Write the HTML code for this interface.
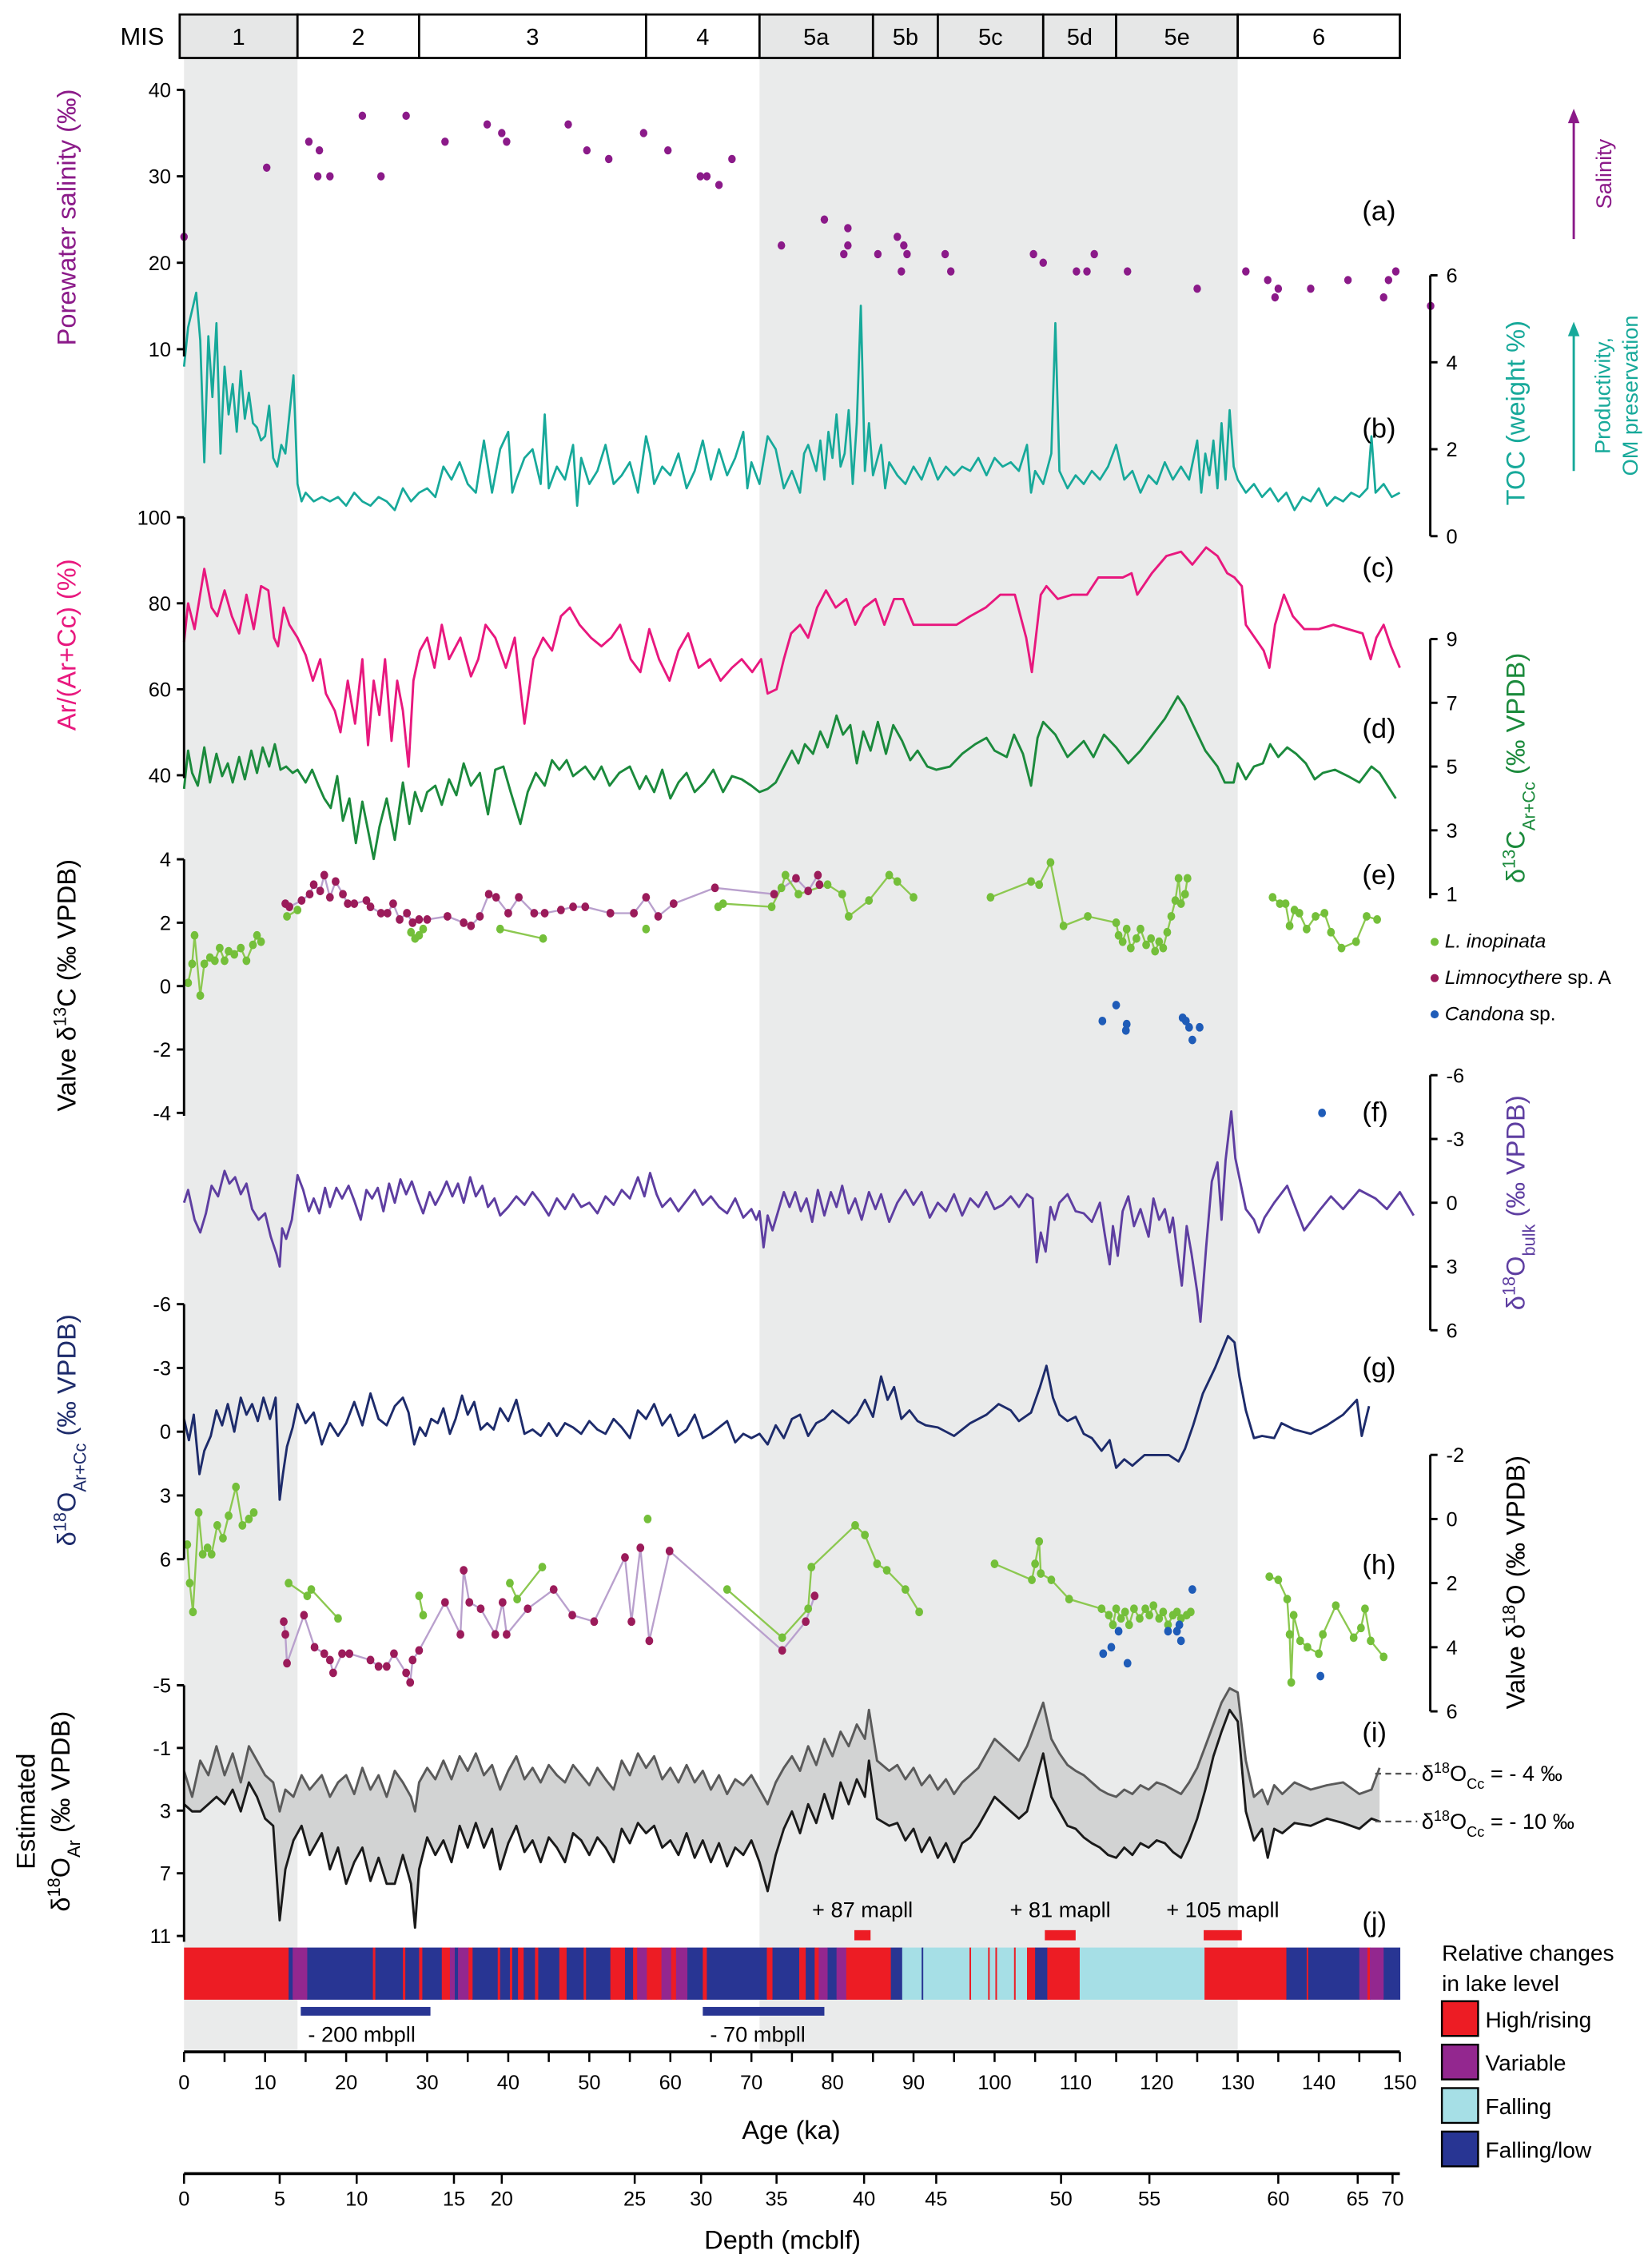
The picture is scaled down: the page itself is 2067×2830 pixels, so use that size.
<!DOCTYPE html>
<html><head><meta charset="utf-8">
<style>
html,body{margin:0;padding:0;background:#fff;}
svg{display:block;font-family:"Liberation Sans",Arial,sans-serif;}
</style></head>
<body>
<svg id="chart" xmlns="http://www.w3.org/2000/svg" width="2067" height="2830" viewBox="0 0 1140 1561" preserveAspectRatio="none">
<g id="bg"></g>
<g id="plot"></g>
<g id="ann"></g>
</svg>
<script>
// ---------- DATA ----------
const misBounds = [0,14,29,57,71,85,93,106,115,130,150];
const misLabels = ["1","2","3","4","5a","5b","5c","5d","5e","6"];
const shadeRanges = [[0,14],[71,130]];
const ageTicks = [0,10,20,30,40,50,60,70,80,90,100,110,120,130,140,150];
const depthLabels = [0,5,10,15,20,25,30,35,40,45,50,55,60,65,70];
const depthAges = [0,11.8,21.3,33.3,39.2,55.6,63.8,73.1,83.9,92.8,108.2,119.1,135,144.8,149.1];

const salinity = [[0,23],[10.2,31],[15.4,34],[16.7,33],[16.5,30],[18,30],[22,37],[24.3,30],[27.4,37],[32.2,34],[37.4,36],[39.2,35],[39.8,34],[47.4,36],[49.7,33],[52.4,32],[56.7,35],[59.7,33],[63.7,30],[64.5,30],[66,29],[67.6,32],[73.7,22],[79,25],[81.9,24],[81.9,22],[81.4,21],[85.6,21],[88,23],[88.8,22],[89.2,21],[88.5,19],[93.9,21],[94.6,19],[104.8,21],[106,20],[110.1,19],[111.4,19],[112.3,21],[116.4,19],[125,17],[131,19],[133.7,18],[135,17],[134.6,16],[139,17],[143.6,18],[148,16],[148.6,18],[149.5,19],[153.8,15]];

const toc = [[0,3.9],[0.5,4.8],[1,5.2],[1.5,5.6],[2,4.5],[2.5,1.7],[3,4.6],[3.5,3.2],[4,4.9],[4.5,1.9],[5,3.9],[5.5,2.8],[6,3.5],[6.5,2.4],[7,3.8],[7.5,2.7],[8,3.3],[8.5,2.6],[9,2.5],[9.5,2.2],[10,2.3],[10.5,3.0],[11,1.8],[11.5,1.6],[12,2.1],[12.5,1.9],[13,2.8],[13.5,3.7],[14,1.2],[14.5,0.8],[15,1.0],[16,0.8],[17,0.9],[18,0.8],[19,0.9],[20,0.7],[21,1.0],[22,0.8],[23,0.7],[24,0.9],[25,0.8],[26,0.6],[27,1.1],[28,0.8],[29,1.0],[30,1.1],[31,0.9],[32,1.6],[33,1.3],[34,1.7],[35,1.2],[36,1.0],[37,2.2],[38,1.0],[39,2.0],[40,2.4],[40.5,1.0],[41,1.3],[42,1.8],[43,2.0],[44,1.2],[44.5,2.8],[45,1.1],[46,1.6],[47,1.3],[48,2.1],[48.5,0.7],[49,1.8],[50,1.2],[51,1.5],[52,2.1],[53,1.2],[54,1.4],[55,1.7],[56,1.0],[57,2.3],[57.5,1.9],[58,1.2],[59,1.6],[60,1.4],[61,1.9],[62,1.1],[63,1.5],[64,2.2],[65,1.3],[66,2.0],[67,1.4],[68,1.8],[69,2.4],[69.5,1.1],[70,1.7],[71,1.2],[72,2.3],[73,2.0],[74,1.1],[75,1.5],[76,1.0],[76.5,1.9],[77,2.1],[78,1.5],[78.5,2.2],[79,1.3],[79.5,2.4],[80,1.8],[80.5,2.8],[81,1.6],[81.5,1.9],[82,2.9],[82.5,1.2],[83,2.6],[83.5,5.3],[84,1.5],[84.5,2.6],[85,1.4],[86,2.1],[86.5,1.1],[87,1.7],[88,1.4],[89,1.2],[90,1.6],[91,1.3],[92,1.8],[93,1.3],[94,1.6],[95,1.4],[96,1.6],[97,1.5],[98,1.8],[99,1.4],[100,1.8],[101,1.6],[102,1.7],[103,1.5],[104,2.1],[104.5,1.0],[105,1.5],[106,1.2],[107,1.9],[107.5,4.9],[108,1.5],[109,1.1],[110,1.4],[111,1.2],[112,1.5],[113,1.3],[114,1.6],[115,2.1],[116,1.3],[117,1.5],[118,1.0],[119,1.4],[120,1.2],[121,1.7],[122,1.3],[123,1.6],[124,1.3],[125,2.2],[125.5,1.0],[126,1.9],[126.5,1.4],[127,2.2],[127.5,1.1],[128,2.6],[128.5,1.3],[129,2.9],[129.5,1.6],[130,1.3],[131,1.0],[132,1.2],[133,0.9],[134,1.1],[135,0.8],[136,1.0],[137,0.6],[138,0.9],[139,0.8],[140,1.1],[141,0.7],[142,0.9],[143,0.8],[144,1.0],[145,0.9],[146,1.1],[146.5,2.3],[147,1.0],[148,1.2],[149,0.9],[150,1.0]];

const arRatio = [[0,71],[0.5,80],[1.3,74],[2.5,88],[3.4,79],[4.1,77],[5,83],[5.9,77],[6.8,73],[7.7,82],[8.6,74],[9.5,84],[10.4,83],[11.1,72],[11.6,70],[12.3,79],[13,75],[14,72],[15,68],[15.9,62],[16.8,67],[17.5,59],[18.6,55],[19.3,50],[20.2,62],[21.1,52],[22,67],[22.7,47],[23.4,62],[24.1,54],[24.8,67],[25.6,48],[26.3,62],[27,55],[27.7,42],[28.3,62],[29.1,69],[30,72],[30.9,65],[31.8,75],[32.7,67],[34.1,72],[35.4,63],[36.3,67],[37.2,75],[38.4,72],[39.7,65],[40.8,72],[42,52],[43.1,67],[44.3,72],[45.4,69],[46.5,77],[47.6,79],[48.8,75],[50.2,72],[51.5,70],[52.7,72],[53.8,75],[55.1,67],[56.3,64],[57.4,74],[58.6,67],[59.9,62],[61,69],[62.2,73],[63.5,65],[64.9,67],[66.2,62],[67.6,65],[68.8,67],[70.1,64],[71.2,67],[72,59],[73.1,60],[74,67],[74.9,73],[76,75],[77,72],[78.1,79],[79.2,83],[80.4,79],[81.7,81],[82.8,75],[83.9,79],[85.3,81],[86.4,75],[87.6,81],[88.7,81],[90,75],[92,75],[94,75],[95.3,75],[97,77],[98.9,79],[100.7,82],[102.5,82],[103.9,72],[104.6,64],[105.7,82],[106.4,84],[107.8,81],[109.6,82],[111.4,82],[112.8,86],[114,86],[115,86],[115.8,86],[116.9,87],[117.6,82],[119.4,87],[121.2,91],[123,92],[124.4,89],[126.1,93],[127.5,91],[128.7,87],[129.6,86],[130.5,84],[131,75],[132.1,72],[133.2,69],[133.9,65],[134.6,75],[135.7,82],[136.8,77],[138.2,74],[140,74],[141.8,75],[143.6,74],[145.4,73],[146.4,67],[147.1,72],[148,75],[148.9,70],[150,65]];

const d13cArCc = [[0,4.3],[0.5,5.5],[1,4.8],[1.7,4.4],[2.5,5.6],[3.2,4.5],[4,5.4],[4.7,4.7],[5.4,5.1],[6,4.5],[6.8,5.3],[7.5,4.6],[8.3,5.5],[9,4.8],[9.7,5.6],[10.5,5.0],[11.2,5.7],[11.9,4.9],[12.6,5.0],[13.4,4.8],[14,4.9],[15,4.5],[15.8,4.9],[16.6,4.4],[17.3,4.0],[18.1,3.7],[18.9,4.7],[19.6,3.3],[20.4,4.0],[21.2,2.6],[22,3.9],[22.7,3.0],[23.4,2.1],[24.1,3.1],[25,4.0],[26,2.7],[27,4.5],[27.8,3.2],[28.5,4.2],[29.3,3.6],[30,4.2],[31,4.4],[31.8,3.8],[32.7,4.6],[33.6,4.1],[34.5,5.1],[35.4,4.4],[36.5,4.8],[37.5,3.5],[38.4,4.9],[39.4,5.0],[40.3,4.2],[41.5,3.2],[42.4,4.2],[43.4,4.8],[44.5,4.4],[45.4,5.2],[46.3,4.9],[47.2,5.2],[48,4.7],[49.5,5.0],[50.6,4.6],[51.5,5.0],[52.5,4.4],[53.7,4.8],[55,5.0],[56.2,4.3],[57,4.7],[58,4.2],[59,4.9],[60,4.0],[61,4.5],[62,4.8],[63,4.2],[64.2,4.5],[65.3,4.9],[66.5,4.2],[67.6,4.7],[68.8,4.6],[70,4.4],[71,4.2],[72,4.3],[73,4.5],[74,5.0],[75,5.5],[75.8,5.1],[76.6,5.7],[77.6,5.4],[78.5,6.1],[79.4,5.6],[80.5,6.6],[81.3,6.0],[82.2,6.3],[83,5.1],[83.8,6.1],[84.7,5.5],[85.6,6.4],[86.6,5.4],[87.5,6.3],[88.6,5.8],[89.6,5.2],[90.5,5.5],[91.7,5.0],[92.8,4.9],[94.5,5.0],[96,5.4],[97.6,5.7],[99,5.9],[100,5.5],[101.5,5.3],[102.4,6.0],[103.5,5.4],[104.5,4.4],[105.3,5.9],[106,6.4],[107.5,6.0],[109,5.3],[110.2,5.6],[111,5.8],[112.2,5.3],[113.5,6.0],[115,5.6],[116.5,5.1],[118,5.5],[119.5,6.0],[121,6.5],[122.6,7.2],[123.4,6.9],[124.5,6.3],[126,5.5],[127.5,5.0],[128.4,4.5],[129.5,4.5],[130,5.1],[131,4.6],[132,5.0],[133.1,5.1],[134,5.7],[135,5.3],[136.1,5.6],[137.2,5.4],[138.4,5.1],[139.5,4.6],[140.5,4.8],[142,4.9],[143.6,4.7],[145,4.5],[146.5,5.0],[147.5,4.8],[148.5,4.4],[149.5,4.0]];

const c13Inopinata = [[[0.5,0.1],[1,0.7],[1.3,1.6],[2,-0.3],[2.5,0.7],[3.2,0.9],[3.8,0.8],[4.4,1.2],[5,0.8],[5.5,1.1],[6.2,1.0],[7,1.2],[7.7,0.8],[8.5,1.3],[9,1.6],[9.5,1.4]],[[12.7,2.2],[14,2.4]],[[28,1.7],[28.5,1.5],[29,1.6],[29.5,1.8]],[[39,1.8],[44.3,1.5]],[[57,1.8]],[[65.9,2.5],[66.5,2.6],[72.5,2.5],[73.7,3.1],[74.2,3.5],[75.8,2.9],[79.4,3.2],[81.2,2.9],[82,2.2],[84.5,2.7],[87,3.5],[88,3.3],[90,2.8]],[[99.5,2.8],[104.5,3.3],[105.5,3.2],[106.9,3.9],[108.5,1.9],[111.5,2.2],[115,2.0],[115.3,1.6],[115.8,1.4],[116.3,1.8],[116.8,1.2],[117.5,1.5],[118,1.8],[118.7,1.3],[119.3,1.5],[119.8,1.1],[120.3,1.4],[120.8,1.2],[121.3,1.7],[121.8,2.2],[122.3,2.7],[122.7,3.4],[123,2.6],[123.5,2.9],[123.8,3.4]],[[134.3,2.8],[135.2,2.6],[135.9,2.6],[136.4,1.9],[137,2.4],[137.6,2.3],[138.5,1.8],[139.6,2.2],[140.7,2.3],[141.5,1.7],[142.8,1.2],[144.6,1.4],[145.9,2.2],[147.2,2.1]]];
const c13Limno = [[12.5,2.6],[13,2.5],[14.5,2.7],[15.5,2.9],[16,3.2],[16.8,3.0],[17.3,3.5],[18,2.8],[18.7,3.3],[19.6,2.9],[20.2,2.6],[21,2.6],[22.5,2.7],[23,2.5],[24.3,2.3],[25.1,2.3],[25.8,2.6],[26.6,2.1],[27.5,2.3],[28.2,2.0],[29,2.1],[30,2.1],[32.5,2.2],[34.5,2.0],[35.4,1.9],[36.5,2.2],[37.6,2.9],[38.5,2.8],[40,2.3],[41.3,2.8],[43.2,2.3],[44.5,2.3],[46.5,2.4],[48,2.5],[49.5,2.5],[52.6,2.3],[55.5,2.3],[57,2.8],[58.5,2.2],[60.4,2.6],[65.5,3.1],[72.8,2.9],[75.5,3.4],[77,3.0],[78.2,3.5],[78.4,3.2]];
const c13Candona = [[113.3,-1.1],[115,-0.6],[116.2,-1.4],[116.3,-1.2],[123.2,-1.0],[123.6,-1.1],[124,-1.3],[124.4,-1.7],[125.3,-1.3],[140.4,-4.0]];

const o18Bulk = [[0,0.0],[0.5,-0.6],[1.3,0.8],[2,1.4],[2.7,0.5],[3.4,-0.8],[4.2,-0.3],[5,-1.5],[5.6,-0.9],[6.3,-1.2],[7,-0.4],[7.7,-0.9],[8.4,0.3],[9.2,0.8],[10,0.5],[10.7,1.6],[11.4,2.4],[11.8,3.0],[12.1,1.2],[12.6,1.7],[13.3,0.8],[14,-1.3],[14.7,-0.6],[15.4,0.4],[16,-0.2],[16.7,0.5],[17.4,-0.7],[18,0.2],[18.8,-0.7],[19.5,-0.2],[20.3,-0.8],[21,-0.1],[21.8,0.8],[22.5,-0.6],[23.2,-0.2],[23.9,-0.7],[24.6,0.4],[25.3,-0.9],[26,0.0],[26.7,-1.1],[27.4,-0.4],[28.1,-1.0],[28.8,-0.2],[29.5,0.5],[30.3,-0.5],[31,0.1],[31.7,-0.4],[32.4,-1.0],[33.1,-0.3],[33.8,-0.9],[34.5,0.0],[35.3,-1.2],[36,-0.3],[36.8,-0.8],[37.5,0.2],[38.3,-0.2],[39,0.6],[40,0.2],[41,-0.3],[42,0.1],[43,-0.5],[44,0.0],[45,0.6],[46,-0.2],[47,0.3],[48,-0.4],[49,0.2],[50,0.0],[51,0.5],[52,-0.3],[53,0.1],[54,-0.6],[55,-0.2],[56,-1.2],[56.8,-0.3],[57.5,-1.4],[58.3,-0.4],[59,0.2],[60,-0.2],[61,0.4],[62,-0.1],[63,-0.6],[64,0.1],[65,-0.3],[66,0.2],[67,0.5],[68,-0.2],[69,0.7],[70,0.3],[70.6,0.8],[71,0.4],[71.5,2.1],[72,0.6],[72.6,1.3],[73.3,0.4],[74,-0.5],[74.7,0.2],[75.4,-0.5],[76.1,0.4],[76.8,-0.2],[77.5,0.9],[78.2,-0.6],[79,0.6],[79.8,-0.5],[80.5,0.2],[81.2,-0.8],[82,0.5],[82.8,-0.2],[83.6,0.8],[84.5,-0.5],[85.3,0.3],[86,-0.4],[87,0.9],[88,0.0],[89,-0.6],[90,0.1],[91,-0.5],[92,0.7],[93,0.0],[94,0.4],[95,-0.4],[96,0.6],[97,-0.2],[98,0.2],[99,-0.5],[100,0.3],[101,0.1],[102,-0.3],[103,0.2],[104,-0.4],[104.7,-0.2],[105.2,2.8],[105.7,1.4],[106.3,2.3],[106.9,0.2],[107.4,0.8],[108,0.0],[109,-0.4],[110,0.4],[111,0.5],[112,0.9],[113,0.0],[113.6,1.5],[114.2,2.9],[114.6,1.1],[115.2,2.5],[115.8,0.4],[116.5,-0.3],[117.2,1.1],[118,0.3],[119,1.6],[119.6,-0.2],[120.3,0.8],[121,0.3],[121.6,1.4],[122,0.7],[122.5,2.2],[123.1,3.9],[123.7,1.1],[124.3,2.4],[125,4.2],[125.4,5.6],[126.1,2.1],[126.8,-1.0],[127.5,-1.9],[128,0.8],[128.5,-2.0],[129.2,-4.3],[129.7,-2.1],[130.3,-1.0],[131,0.3],[132,0.8],[132.6,1.4],[133.3,0.7],[134.5,0.0],[136.1,-0.8],[138.2,1.3],[140,0.4],[141.5,-0.3],[143,0.3],[145,-0.6],[147,-0.2],[148.4,0.3],[150,-0.5],[151.7,0.6]];

const o18ArCc = [[0,-0.6],[0.6,0.4],[1.2,-0.8],[1.9,2.0],[2.5,0.9],[3.3,0.2],[4,-1.0],[4.7,-0.3],[5.4,-1.3],[6.2,0.0],[7,-1.6],[7.7,-0.8],[8.4,-1.3],[9.1,-0.5],[9.8,-1.6],[10.6,-0.6],[11.3,-1.6],[11.8,3.2],[12.2,2.0],[12.7,0.7],[13.4,-0.2],[14,-1.3],[15,-0.4],[16,-0.9],[17,0.6],[18,-0.4],[19,0.2],[20,-0.4],[21,-1.4],[22,-0.3],[23,-1.8],[24,-0.6],[25,-0.3],[26,-1.2],[27,-1.6],[27.7,-0.9],[28.4,0.6],[29.1,-0.2],[29.8,0.2],[30.5,-0.6],[31.3,-0.4],[32,-1.1],[32.8,0.1],[33.5,-0.6],[34.3,-1.7],[35,-0.8],[35.8,-1.4],[36.6,-0.1],[37.4,-0.4],[38.2,-0.1],[39,-1.1],[40,-0.5],[41,-1.5],[42,0.1],[43,-0.1],[44,0.2],[45,-0.4],[46,0.2],[47,-0.4],[48,-0.2],[49,0.1],[50,-0.5],[51,-0.1],[52,0.1],[53,-0.6],[54,-0.2],[55,0.3],[56,-1.0],[57,-0.6],[58,-1.3],[59,-0.3],[60,-0.8],[61,0.2],[62,-0.1],[63,-0.8],[64,0.3],[65,0.1],[66,-0.2],[67,-0.5],[68,0.5],[69,0.1],[70,0.3],[71,0.1],[72,0.6],[73,-0.3],[74,0.3],[75,-0.6],[76,-0.8],[77,0.2],[78,-0.4],[79,-0.6],[80,-1.0],[81,-0.7],[82,-0.4],[83,-0.8],[84,-1.5],[85,-0.7],[86,-2.6],[86.8,-1.5],[87.6,-2.1],[88.5,-0.6],[89.5,-1.0],[90.5,-0.5],[91.5,-0.3],[93,-0.2],[95,0.2],[97,-0.4],[99,-0.8],[100.5,-1.3],[102,-1.0],[103,-0.5],[104.5,-0.9],[105.6,-2.1],[106.4,-3.1],[107.2,-1.6],[108,-0.8],[109,-0.5],[110,-0.7],[111,0.1],[112,0.3],[113.2,0.9],[114.2,0.4],[115,1.7],[116,1.3],[117,1.6],[118.5,1.1],[120,1.1],[121.5,1.1],[122.7,1.4],[123.5,0.8],[124.5,-0.3],[125.7,-1.8],[127.2,-3.0],[128.8,-4.5],[129.6,-4.2],[130.2,-2.6],[131,-1.0],[132,0.3],[133,0.2],[134.5,0.3],[135.4,-0.4],[137,-0.1],[139,0.1],[141,-0.3],[143,-0.8],[144.7,-1.5],[145.3,0.2],[146.2,-1.2]];

const o18Inopinata = [[[0.4,0.8],[0.7,2.0],[1.1,2.9],[1.8,-0.2],[2.3,1.1],[2.9,0.9],[3.4,1.1],[4.1,0.2],[4.8,0.6],[5.5,-0.1],[6.4,-1.0],[7.2,0.2],[8,0.0],[8.6,-0.2]],[[12.9,2.0],[15.2,2.4],[15.7,2.2],[19,3.1]],[[29,2.4],[29.5,3.0]],[[40.2,2.0],[41.1,2.5],[44.2,1.5]],[[57.2,0.0]],[[67,2.2],[73.8,3.7],[77,2.8],[77.4,1.5],[82.8,0.2],[84,0.5],[85.5,1.4],[86.7,1.6],[89,2.2],[90.7,2.9]],[[100,1.4],[104.6,1.9],[105,1.4],[105.5,0.7],[105.7,1.7],[107,1.9],[109.2,2.5],[113.2,2.8],[114.1,3.0],[114.6,3.3],[115,2.8],[115.6,3.1],[116.1,2.9],[116.6,3.3],[117.2,2.8],[117.9,3.1],[118.6,2.8],[119.1,3.0],[119.6,2.7],[120.3,3.1],[120.8,2.9],[121.4,3.3],[122,3.0],[122.5,2.9],[123,3.1],[123.7,3.0],[124.2,2.9]],[[133.9,1.8],[135,1.9],[136.1,2.5],[136.4,3.6],[136.6,5.1],[136.9,3.0],[137.7,3.8],[138.6,4.0],[140,4.2],[140.5,3.6],[142.1,2.7],[144.3,3.7],[145.2,3.4],[145.7,2.8],[146.4,3.8],[148,4.3]]];
const o18Limno = [[12.3,3.2],[12.5,3.6],[12.7,4.5],[14.8,3.0],[16.1,4.0],[17.3,4.2],[18,4.4],[18.4,4.8],[19.5,4.2],[20.4,4.2],[23,4.4],[24,4.6],[25,4.6],[25.9,4.2],[27.4,4.8],[27.9,5.1],[28.2,4.4],[29,4.1],[32.2,2.6],[34.1,3.6],[34.5,1.6],[35.2,2.6],[36.6,2.8],[38.4,3.6],[39.3,2.6],[39.8,3.6],[42.4,2.8],[45.6,2.2],[47.9,3.0],[50.6,3.2],[54.4,1.2],[55.2,3.2],[56.3,0.9],[57.4,3.8],[59.9,1.0],[73.8,4.1],[76.7,3.2],[77.8,2.4]];
const o18Candona = [[113.4,4.2],[114.4,4.0],[115.3,3.5],[116.4,4.5],[121.4,3.5],[122.5,3.5],[123,3.8],[122.8,3.3],[124.4,2.2],[140.2,4.9]];

const estAges = [0,1,2,3,4,5,6,7,8,9,10,11,11.8,12.5,13.5,14.5,15.5,17,18,19,20,21,22,23,24,25,26,27,28,28.5,29,30,31,32,33,34,35,36,37,38,39,40,41,42,43,44,45,46,47,48,49,50,51,52,53,54,55,56,57,58,59,60,61,62,63,64,65,66,67,68,69,70,71,72,73,74,75,76,77,78,79,80,81,82,83,84,84.5,85.5,87,88,89,90,91,92,93,94,95,96,97,98,99,100,101,102,103,104,105,106,107,108,109,110,111,112,113,114,115,116,117,118,119,120,121,122,123,124,125,126,127,128,129,130,131,132,133,133.7,134.5,135.5,137,139,141,143,145,146.5,147.5];
const estCcMinus4 = [0.46,2.12,-0.19,0.74,-1.11,0.74,-0.65,1.2,-1.11,-0.19,0.74,1.2,3.05,1.66,2.12,0.74,1.66,0.74,2.12,1.2,0.74,1.94,0.27,1.66,0.74,2.12,0.46,1.2,2.12,3.05,1.2,0.27,1.0,-0.19,1.0,-0.47,0.46,-0.65,0.74,0.09,1.66,0.46,-0.47,1.0,0.27,1.2,0.09,0.74,1.2,0.09,0.74,1.38,0.27,1.0,1.66,-0.19,0.74,-0.65,0.27,-0.47,1.0,0.27,1.2,0.09,1.2,0.46,1.66,0.74,1.94,1.0,1.38,0.74,1.66,2.59,1.2,0.27,-0.47,0.46,-1.11,0.09,-1.58,-0.47,-2.04,-1.11,-2.5,-1.58,-3.43,-0.19,0.46,0.09,1.0,0.27,1.38,0.74,1.66,1.0,1.94,1.2,0.74,0.27,-0.65,-1.58,-1.11,-0.65,-0.19,-1.11,-2.5,-3.89,-1.58,-0.65,0.09,0.46,0.74,1.2,1.66,1.94,2.12,1.66,1.94,1.38,1.66,1.2,1.38,1.66,1.94,1.2,0.27,-1.11,-2.5,-3.89,-4.81,-4.54,-0.19,2.12,1.66,2.59,1.38,1.94,1.2,1.66,1.38,1.2,1.94,1.66,0.27];
const estCcMinus10 = [2.59,3.05,3.05,2.59,2.12,2.59,1.66,3.05,1.2,2.12,3.51,3.97,10.0,6.75,4.9,3.97,5.83,4.44,6.75,5.36,7.67,6.29,5.36,7.49,6.01,7.67,7.67,5.83,7.67,10.47,6.75,4.71,5.83,4.9,6.29,3.97,5.36,3.79,5.36,4.16,6.75,5.08,3.97,5.64,4.9,6.29,4.71,5.36,6.29,4.44,4.9,5.83,4.71,5.36,6.29,4.16,5.08,3.79,4.44,3.97,5.36,4.9,5.83,4.44,6.01,4.9,6.29,5.08,6.56,5.36,5.83,4.9,6.29,8.14,5.83,4.16,3.05,4.44,2.59,3.79,1.94,3.51,1.2,2.59,1.0,2.12,-0.19,3.51,3.97,3.79,4.9,4.16,5.64,4.71,6.01,5.08,6.29,5.08,4.71,3.97,3.05,2.12,2.59,3.05,3.51,3.05,1.2,-0.65,2.12,3.05,3.97,4.16,4.71,5.08,5.36,5.83,6.01,5.36,5.83,5.08,5.36,4.9,5.08,5.64,6.01,4.9,3.51,1.66,-0.47,-2.04,-3.43,-2.69,3.05,4.9,4.16,6.01,4.16,4.44,3.79,3.97,3.51,3.79,4.16,3.51,3.7];

const lakeBreaks = [0,12.9,13.4,15.2,23.3,23.6,27,27.3,29,29.4,31.8,32.8,33.4,33.8,35.1,35.6,38.7,39,40.2,40.5,41.2,41.9,43.3,43.7,46.3,47.2,49.3,49.6,52.6,54.4,55.4,55.9,57.1,58.9,60.1,60.7,62.1,64,64.5,71.9,72.6,75.9,76.7,77.8,78.3,79.4,80.5,81.7,87.2,88.6,91,91.2,96.9,97.1,99.2,99.4,100.1,100.3,102.4,102.6,104,105,106.5,110.5,125.9,136,138.5,138.7,145,146,146.3,148,150];
const lakeClass = ["H","L","V","L","H","L","H","L","H","L","H","V","L","V","H","L","H","L","H","L","H","L","H","L","H","L","H","L","H","L","H","V","H","V","H","V","L","H","L","H","L","H","L","H","V","L","V","H","L","F","L","F","H","F","H","F","H","F","H","F","H","L","H","F","H","L","H","L","V","H","V","L"];
const highMarkers = [[82.7,84.7,"+ 87 mapll"],[106.2,110,"+ 81 mapll"],[125.8,130.5,"+ 105 mapll"]];
const lowMarkers = [[14.4,30.4,"- 200 mbpll"],[64,79,"- 70 mbpll"]];

// ---------- SCALES ----------
const NS="http://www.w3.org/2000/svg";
const X0=127, XK=839/150;
function ax(a){return X0+a*XK;}
function lin(v0,y0,v1,y1){return v=>y0+(v-v0)*(y1-y0)/(v1-v0);}
const yA=lin(40,62,10,241), yB=lin(0,370,6,190), yC=lin(100,357,40,535), yD=lin(9,441,1,617),
      yE=lin(4,593,-4,768), yF=lin(-6,742,6,918), yG=lin(-6,900,6,1076), yH=lin(-2,1004,6,1181), yI=lin(-5,1163,11,1336);

const bg=document.getElementById('bg'), plot=document.getElementById('plot'), ann=document.getElementById('ann');
function mk(tag,attrs,parent){const e=document.createElementNS(NS,tag);for(const k in attrs)e.setAttribute(k,attrs[k]);(parent||plot).appendChild(e);return e;}
function txt(s,x,y,size,attrs,parent){const e=mk('text',Object.assign({x:x,y:y,'font-size':size},attrs||{}),parent||ann);e.textContent=s;return e;}
function pathOf(arr,ys){return arr.map((p,i)=>(i?'L':'M')+ax(p[0]).toFixed(2)+' '+ys(p[1]).toFixed(2)).join(' ');}

// shading
shadeRanges.forEach(r=>{
  const e=mk('rect',{x:ax(r[0]),y:40,width:ax(r[1])-ax(r[0]),height:1376,fill:'#eaebeb'},bg);
  
  
});

// MIS bar
txt('MIS',83,31,17,{});
for(let i=0;i<misLabels.length;i++){
  const x1=i===0?ax(0)-3:ax(misBounds[i]), x2=ax(misBounds[i+1]);
  const r=mk('rect',{x:x1,y:10,width:x2-x1,height:30,fill:(misLabels[i]==='1'||/^5/.test(misLabels[i]))?'#e6e7e7':'#fff',stroke:'#000','stroke-width':1.5},ann);
  
  
  const t=txt(misLabels[i],(x1+x2)/2,31,16,{'text-anchor':'middle'});
  
  
}

// axis helper
function vAxis(x,ys,ticks,side,ytop,ybot,name){
  const g=mk('g',{},ann);
  
  
  mk('line',{x1:x,y1:ytop,x2:x,y2:ybot,stroke:'#000','stroke-width':1.6},g);
  ticks.forEach(t=>{
    const y=ys(t), d=side==='left'?-5:5;
    mk('line',{x1:x,y1:y,x2:x+d,y2:y,stroke:'#000','stroke-width':1.6},g);
    const e=txt(String(t),side==='left'?x-9:x+11,y+5,14,{'text-anchor':side==='left'?'end':'start'},g);
  });
}
vAxis(127,yA,[40,30,20,10],'left',62,246,'salinity-axis');
vAxis(987,yB,[6,4,2,0],'right',190,370,'toc-axis');
vAxis(127,yC,[100,80,60,40],'left',357,537,'ar-ratio-axis');
vAxis(987,yD,[9,7,5,3,1],'right',441,620,'d13c-arcc-axis');
vAxis(127,yE,[4,2,0,-2,-4],'left',593,770,'valve-d13c-axis');
vAxis(987,yF,[-6,-3,0,3,6],'right',742,918,'d18o-bulk-axis');
vAxis(127,yG,[-6,-3,0,3,6],'left',900,1076,'d18o-arcc-axis');
vAxis(987,yH,[-2,0,2,4,6],'right',1004,1181,'valve-d18o-axis');
vAxis(127,yI,[-5,-1,3,7,11],'left',1163,1340,'est-d18o-ar-axis');

// rotated titles
function rotTitle(parts,x,y,color,name){
  const t=mk('text',{x:0,y:0,'font-size':18,'text-anchor':'middle',fill:color,transform:`translate(${x},${y}) rotate(-90)`},ann);
  
  
  parts.forEach(p=>{const s=mk('tspan',{},t);if(p[1])s.setAttribute('baseline-shift',p[1]);if(p[2])s.setAttribute('font-size',p[2]);if(p[3])s.setAttribute('font-style',p[3]);s.textContent=p[0];});
  return t;
}
rotTitle([['Porewater salinity (‰)']],52,150,'#8b1a89','salinity-title');
rotTitle([['TOC (weight %)']],1052,285,'#17a99a','toc-title');
rotTitle([['Ar/(Ar+Cc) (%)']],52,445,'#e8187e','ar-ratio-title');
rotTitle([['δ'],['13','super',12],['C'],['Ar+Cc','sub',12],[' (‰ VPDB)']],1052,530,'#1b8a3c','d13c-arcc-title');
rotTitle([['Valve δ'],['13','super',12],['C (‰ VPDB)']],52,680,'#000','valve-d13c-title');
rotTitle([['δ'],['18','super',12],['O'],['bulk','sub',12],[' (‰ VPDB)']],1052,830,'#5e3ea1','d18o-bulk-title');
rotTitle([['δ'],['18','super',12],['O'],['Ar+Cc','sub',12],[' (‰ VPDB)']],52,987,'#1d2b6b','d18o-arcc-title');
rotTitle([['Valve δ'],['18','super',12],['O (‰ VPDB)']],1052,1092,'#000','valve-d18o-title');
rotTitle([['Estimated']],24,1250,'#000','est-title-line1');
rotTitle([['δ'],['18','super',12],['O'],['Ar','sub',12],[' (‰ VPDB)']],48,1250,'#000','est-title-line2');

// arrows
function arrow(x,y1,y2,color,name){
  const g=mk('g',{},ann);
  
  
  mk('line',{x1:x,y1:y1,x2:x,y2:y2+8,stroke:color,'stroke-width':1.6},g);
  mk('polygon',{points:`${x-4},${y2+10} ${x+4},${y2+10} ${x},${y2}`,fill:color},g);
}
arrow(1086,165,75,'#8b1a89','salinity-arrow');
rotTitle([['Salinity']],1112,120,'#8b1a89','salinity-arrow-label').setAttribute('font-size',15);
arrow(1086,325,222,'#17a99a','productivity-arrow');
rotTitle([['Productivity,']],1111,273,'#17a99a','productivity-label-1').setAttribute('font-size',15);
rotTitle([['OM preservation']],1130,273,'#17a99a','productivity-label-2').setAttribute('font-size',15);

// panel letters
[['(a)',152],['(b)',302],['(c)',398],['(d)',509],['(e)',610],['(f)',774],['(g)',950],['(h)',1086],['(i)',1202],['(j)',1333]].forEach(l=>{
  const t=txt(l[0],940,l[1],19,{});
  
  
});

// ---------- SERIES ----------
function line(arr,ys,color,w,name){
  const e=mk('path',{d:pathOf(arr,ys),fill:'none',stroke:color,'stroke-width':w,'stroke-linejoin':'round'});
  
  
  return e;
}
function dots(arr,ys,color,r,name){
  arr.forEach(p=>{
    const c=mk('ellipse',{cx:ax(p[0]),cy:ys(p[1]),rx:r,ry:r*1.1,fill:color});
    
    
  });
}
dots(salinity,yA,'#8b1a89',2.6,'salinity-point');
line(toc,yB,'#17a99a',1.5,'toc-line');
line(arRatio,yC,'#e8187e',1.6,'ar-ratio-line');
line(d13cArCc,yD,'#1b8a3c',1.6,'d13c-arcc-line');

line(c13Limno,yE,'#b9a0cd',1.3,'limnocythere-d13c-line');
c13Inopinata.forEach(seg=>{ if(seg.length>1) line(seg,yE,'#8cc850',1.3,'inopinata-d13c-line'); });
c13Inopinata.forEach(seg=>dots(seg,yE,'#74bf3a',2.7,'inopinata-d13c-point'));
dots(c13Limno,yE,'#9b1b5a',2.7,'limnocythere-d13c-point');
dots(c13Candona,yE,'#1f5cb8',2.7,'candona-d13c-point');

line(o18Bulk,yF,'#5e3ea1',1.6,'d18o-bulk-line');
line(o18ArCc,yG,'#1d2b6b',1.6,'d18o-arcc-line');

line(o18Limno,yH,'#b9a0cd',1.3,'limnocythere-d18o-line');
o18Inopinata.forEach(seg=>{ if(seg.length>1) line(seg,yH,'#8cc850',1.3,'inopinata-d18o-line'); });
o18Inopinata.forEach(seg=>dots(seg,yH,'#74bf3a',2.7,'inopinata-d18o-point'));
dots(o18Limno,yH,'#9b1b5a',2.7,'limnocythere-d18o-point');
dots(o18Candona,yH,'#1f5cb8',2.7,'candona-d18o-point');

// estimated band
const up=estAges.map((a,i)=>[a,estCcMinus4[i]]), lo=estAges.map((a,i)=>[a,estCcMinus10[i]]);
const band=mk('path',{d:pathOf(up,yI)+' '+lo.slice().reverse().map(p=>'L'+ax(p[0]).toFixed(2)+' '+yI(p[1]).toFixed(2)).join(' ')+' Z',fill:'#d2d3d3',stroke:'none'});


line(up,yI,'#5a5a5a',1.6,'est-d18o-cc-minus4-line');
line(lo,yI,'#1a1a1a',1.6,'est-d18o-cc-minus10-line');

// legend e
[['L. inopinata','#74bf3a',654,'italic'],['Limnocythere',"#9b1b5a",679,'italic'],['Candona',"#1f5cb8",704,'italic']].forEach((l,i)=>{
  const c=mk('circle',{cx:990,cy:l[2]-4,r:2.8,fill:l[1]},ann);
  
  
  const t=mk('text',{x:997,y:l[2],'font-size':13.5},ann);
  
  
  const s=mk('tspan',{'font-style':'italic'},t); s.textContent=l[0];
  if(i===1){const s2=mk('tspan',{},t); s2.textContent=' sp. A';}
  if(i===2){const s2=mk('tspan',{},t); s2.textContent=' sp.';}
});

// i labels
function ccLabel(val,y,name){
  const g=mk('g',{},ann);
  
  
  mk('line',{x1:949,y1:y-5,x2:978,y2:y-5,stroke:'#555','stroke-width':1.3,'stroke-dasharray':'4,3'},g);
  const t=mk('text',{x:981,y:y,'font-size':15},g);
  [['δ'],['18','super',10],['O'],['Cc','sub',10],[' = '+val+' ‰']].forEach(p=>{const s=mk('tspan',{},t);if(p[1]){s.setAttribute('baseline-shift',p[1]);s.setAttribute('font-size',p[2]);}s.textContent=p[0];});
}
ccLabel('- 4',1229,'cc-minus4-label');
ccLabel('- 10',1262,'cc-minus10-label');

// lake level bar
const lakeColor={H:'#ed1c24',V:'#93278f',F:'#a6dfe6',L:'#283593'};
for(let i=0;i<lakeClass.length;i++){
  const x1=ax(lakeBreaks[i]), x2=ax(lakeBreaks[i+1]);
  const r=mk('rect',{x:x1,y:1344,width:Math.max(0.6,x2-x1+0.3),height:36,fill:lakeColor[lakeClass[i]]});
  
  
}
highMarkers.forEach(m=>{
  const r=mk('rect',{x:ax(m[0]),y:1332,width:ax(m[1])-ax(m[0]),height:7,fill:'#ed1c24'});
  
  
  const t=txt(m[2],(ax(m[0])+ax(m[1]))/2,1323,15,{'text-anchor':'middle'});
  
  
});
lowMarkers.forEach(m=>{
  const r=mk('rect',{x:ax(m[0]),y:1385,width:ax(m[1])-ax(m[0]),height:6,fill:'#283593'});
  
  
  const t=txt(m[2],ax(m[0])+5,1409,15,{});
  
  
});

// lake legend
txt('Relative changes',995,1353,15.5,{});
txt('in lake level',995,1374,15.5,{});
[['High/rising','H',1381],['Variable','V',1411],['Falling','F',1441],['Falling/low','L',1471]].forEach(l=>{
  const r=mk('rect',{x:995,y:l[2],width:25,height:24,fill:lakeColor[l[1]],stroke:'#000','stroke-width':1.3},ann);
  
  
  const t=txt(l[0],1025,l[2]+18,15.5,{});
  
  
});

// age axis
const ageAx=mk('g',{},ann);


mk('line',{x1:ax(0),y1:1416,x2:ax(150),y2:1416,stroke:'#000','stroke-width':2},ageAx);
for(let a=0;a<=150;a+=5) mk('line',{x1:ax(a),y1:1416,x2:ax(a),y2:1423,stroke:'#000','stroke-width':1.4},ageAx);
ageTicks.forEach(a=>txt(String(a),ax(a),1442,14,{'text-anchor':'middle'},ageAx));
txt('Age (ka)',546,1476,18,{'text-anchor':'middle'},ageAx);

// depth axis
const dAx=mk('g',{},ann);


mk('line',{x1:ax(0),y1:1500,x2:ax(150),y2:1500,stroke:'#000','stroke-width':2},dAx);
depthAges.forEach((a,i)=>{
  mk('line',{x1:ax(a),y1:1500,x2:ax(a),y2:1507,stroke:'#000','stroke-width':1.4},dAx);
  txt(String(depthLabels[i]),ax(a),1522,14,{'text-anchor':'middle'},dAx);
});
txt('Depth (mcblf)',540,1552,18,{'text-anchor':'middle'},dAx);
</script>
</body></html>
